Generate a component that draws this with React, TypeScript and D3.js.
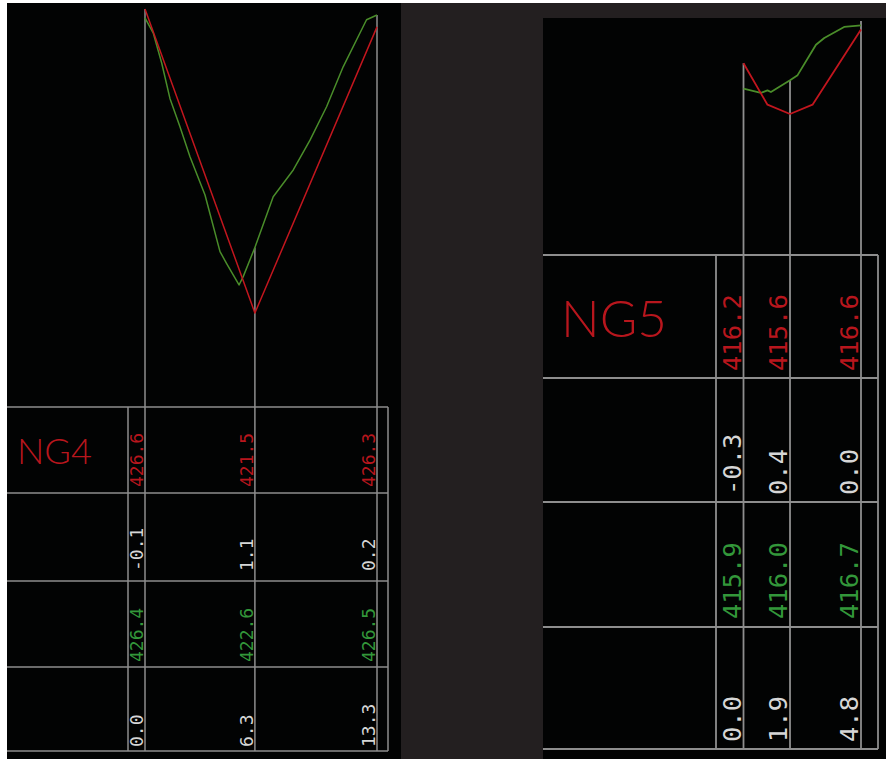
import React from "react";
import * as d3 from "d3";

// ---------- DATA ----------
// Left drawing (NG4)
const ng4Stations = [0, 6.3, 13.3];
const ng4DesignElev = [426.6, 421.5, 426.3];
const ng4DiffLabels = ["-0.1", "1.1", "0.2"];
const ng4GroundElev = [426.4, 422.6, 426.5];
const ng4StationLabels = ["0.0", "6.3", "13.3"];
const ng4DesignProfile: [number, number][] = [
  [0, 426.6],
  [6.3, 421.5],
  [13.3, 426.3],
];
const ng4GroundProfile: [number, number][] = [
  [0, 426.45],
  [0.48, 426.19],
  [0.96, 425.69],
  [1.43, 425.1],
  [2.0, 424.63],
  [2.58, 424.12],
  [3.44, 423.48],
  [4.3, 422.53],
  [4.68, 422.33],
  [5.39, 421.97],
  [5.63, 422.11],
  [6.3, 422.6],
  [7.35, 423.45],
  [8.5, 423.9],
  [9.46, 424.4],
  [10.41, 424.96],
  [11.36, 425.63],
  [12.7, 426.42],
  [13.3, 426.5],
];

// Right drawing (NG5)
const ng5Stations = [0, 1.9, 4.8];
const ng5DesignElev = [416.2, 415.6, 416.6];
const ng5DiffLabels = ["-0.3", "0.4", "0.0"];
const ng5GroundElev = [415.9, 416.0, 416.7];
const ng5StationLabels = ["0.0", "1.9", "4.8"];
const ng5DesignProfile: [number, number][] = [
  [0, 416.2],
  [0.98, 415.71],
  [1.9, 415.6],
  [2.82, 415.71],
  [4.8, 416.6],
];
const ng5GroundProfile: [number, number][] = [
  [0, 415.9],
  [0.71, 415.85],
  [0.98, 415.88],
  [1.12, 415.86],
  [1.9, 416.0],
  [2.21, 416.06],
  [2.96, 416.42],
  [3.3, 416.5],
  [4.11, 416.63],
  [4.8, 416.65],
];

// ---------- STYLE ----------
const RED_LINE = "#c2161e";
const GREEN_LINE = "#4a8d2a";
const RED_TEXT = "#b8161d";
const GREEN_TEXT = "#33973a";
const WHITE_TEXT = "#d6d6d6";
const GRID = "#8e8e8e";

type PanelProps = {
  name: string;
  stations: number[];
  design: number[];
  diff: string[];
  ground: number[];
  stationLabels: string[];
  designProfile: [number, number][];
  groundProfile: [number, number][];
  xDomain: [number, number];
  xRange: [number, number];
  yDomain: [number, number];
  yRange: [number, number];
  tableLeft: number;
  tableRight: number;
  divider: number;
  rows: number[]; // top, row1, row2, row3, bottom
  rowPad: number[];
  fontSize: number;
  textGap: number;
  nameX: number;
  nameY: number;
  nameSize: number;
  nameWidth: number;
  lw: number;
};

function Panel(p: PanelProps) {
  const x = d3.scaleLinear().domain(p.xDomain).range(p.xRange);
  const y = d3.scaleLinear().domain(p.yDomain).range(p.yRange);
  const line = d3
    .line<[number, number]>()
    .x((d) => x(d[0]))
    .y((d) => y(d[1]));
  const bottom = p.rows[4];
  const rowValues: { vals: string[]; color: string }[] = [
    { vals: p.design.map((v) => v.toFixed(1)), color: RED_TEXT },
    { vals: p.diff, color: WHITE_TEXT },
    { vals: p.ground.map((v) => v.toFixed(1)), color: GREEN_TEXT },
    { vals: p.stationLabels, color: WHITE_TEXT },
  ];
  return (
    <g>
      {/* station verticals */}
      {p.stations.map((s, i) => (
        <line
          key={"v" + i}
          x1={x(s)}
          x2={x(s)}
          y1={y(Math.max(p.design[i], p.ground[i] - (i === 0 && p.name === "NG4" ? 0.1 : 0)))}
          y2={bottom}
          stroke={GRID}
          strokeWidth={p.lw}
        />
      ))}
      {/* table horizontal lines */}
      {p.rows.map((ry, i) => (
        <line
          key={"h" + i}
          x1={p.tableLeft}
          x2={p.tableRight}
          y1={ry}
          y2={ry}
          stroke={GRID}
          strokeWidth={p.lw}
        />
      ))}
      <line x1={p.divider} x2={p.divider} y1={p.rows[0]} y2={bottom} stroke={GRID} strokeWidth={p.lw} />
      <line x1={p.tableRight} x2={p.tableRight} y1={p.rows[0]} y2={bottom} stroke={GRID} strokeWidth={p.lw} />
      {/* profiles */}
      <path d={line(p.groundProfile) || ""} fill="none" stroke={GREEN_LINE} strokeWidth={p.lw} strokeLinejoin="round" />
      <path d={line(p.designProfile) || ""} fill="none" stroke={RED_LINE} strokeWidth={p.lw} strokeLinejoin="round" />
      {/* name */}
      <text
        x={p.nameX}
        y={p.nameY}
        fill={RED_TEXT}
        fontFamily="Lato, 'DejaVu Sans', sans-serif"
        fontWeight={300}
        fontSize={p.nameSize}
        textLength={p.nameWidth}
        lengthAdjust="spacingAndGlyphs"
      >
        {p.name}
      </text>
      {/* table values */}
      {rowValues.map((row, r) =>
        row.vals.map((v, i) => {
          const tx = x(p.stations[i]) - p.textGap;
          const ty = p.rows[r + 1] - p.rowPad[r];
          return (
            <text
              key={"t" + r + "-" + i}
              transform={`translate(${tx},${ty}) rotate(-90)`}
              fill={row.color}
              fontFamily="'DejaVu Sans Mono', monospace"
              fontSize={p.fontSize}
            >
              {v}
            </text>
          );
        })
      )}
    </g>
  );
}

export default function App() {
  return (
    <div>
      <style>{"body{margin:0;}"}</style>
      <svg width={886} height={759} style={{ display: "block" }}>
        <rect x={0} y={0} width={886} height={759} fill="#ffffff" />
        <rect x={7} y={3} width={879} height={756} fill="#231f20" />
        <rect x={7} y={3} width={394} height={756} fill="#020303" />
        <rect x={543} y={18} width={343} height={741} fill="#020303" />
        <Panel
          name="NG4"
          stations={ng4Stations}
          design={ng4DesignElev}
          diff={ng4DiffLabels}
          ground={ng4GroundElev}
          stationLabels={ng4StationLabels}
          designProfile={ng4DesignProfile}
          groundProfile={ng4GroundProfile}
          xDomain={[0, 13.3]}
          xRange={[145, 377]}
          yDomain={[421.5, 426.6]}
          yRange={[313, 9]}
          tableLeft={7}
          tableRight={388}
          divider={128}
          rows={[407, 493, 581, 667, 751]}
          rowPad={[6, 10, 5, 4]}
          fontSize={18}
          textGap={2}
          nameX={17}
          nameY={464}
          nameSize={36}
          nameWidth={75}
          lw={1.5}
        />
        <Panel
          name="NG5"
          stations={ng5Stations}
          design={ng5DesignElev}
          diff={ng5DiffLabels}
          ground={ng5GroundElev}
          stationLabels={ng5StationLabels}
          designProfile={ng5DesignProfile}
          groundProfile={ng5GroundProfile}
          xDomain={[0, 4.8]}
          xRange={[743.5, 861]}
          yDomain={[415.6, 416.6]}
          yRange={[114, 29.5]}
          tableLeft={543}
          tableRight={878}
          divider={716}
          rows={[255, 378, 502, 627, 749]}
          rowPad={[7, 7, 8, 7]}
          fontSize={25.5}
          textGap={3}
          nameX={561}
          nameY={337}
          nameSize={52}
          nameWidth={106}
          lw={1.8}
        />
      </svg>
    </div>
  );
}
